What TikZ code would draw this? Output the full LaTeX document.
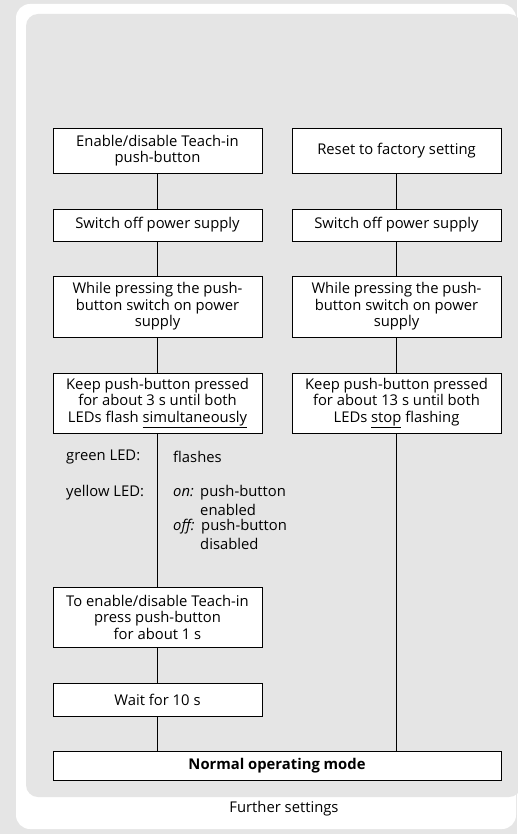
\documentclass[tikz,border=0pt]{standalone}
\usepackage{fontspec}
\setmainfont{Open Sans}
\definecolor{bggray}{HTML}{E5E5E5}
\begin{document}
\begin{tikzpicture}[x=1pt,y=-1pt,
  every node/.style={font=\fontsize{14.8}{16.5}\selectfont, text=black},
  stepbox/.style={draw=black, line width=0.8pt, fill=white, inner sep=0pt, align=center, minimum width=209},
  conn/.style={draw=black, line width=0.8pt},
  note/.style={anchor=west, inner sep=0pt}]
\useasboundingbox (0,0) rectangle (517,834);
\fill[bggray] (0,0) rectangle (517,834);
\fill[white, rounded corners=14] (16,4) rectangle (516,829);
\fill[bggray, rounded corners=12] (26,14) rectangle (521,797);
% left column
\node[stepbox, minimum height=45] (L1) at (157.5,150.5) {Enable/disable Teach-in\\push-button};
\node[stepbox, minimum height=32] (L2) at (157.5,225) {Switch off power supply};
\node[stepbox, minimum height=61] (L3) at (157.5,306.5) {While pressing the push-\\button switch on power\\supply};
\node[stepbox, minimum height=60] (L4) at (157.5,403) {Keep push-button pressed\\for about 3 s until both\\LEDs flash \underline{simultaneously}};
\node[stepbox, minimum height=60] (L5) at (157.5,617) {To enable/disable Teach-in\\press push-button\\for about 1 s};
\node[stepbox, minimum height=33] (L6) at (157.5,699.5) {Wait for 10 s};
% right column
\node[stepbox, minimum height=45] (R1) at (396.5,150.5) {Reset to factory setting};
\node[stepbox, minimum height=32] (R2) at (396.5,225) {Switch off power supply};
\node[stepbox, minimum height=61] (R3) at (396.5,306.5) {While pressing the push-\\button switch on power\\supply};
\node[stepbox, minimum height=60] (R4) at (396.5,403) {Keep push-button pressed\\for about 13 s until both\\LEDs \underline{stop} flashing};
% final
\node[stepbox, minimum width=448, minimum height=29] (F) at (277,765.5) {\bfseries Normal operating mode};
% connectors
\draw[conn] (L1) -- (L2);
\draw[conn] (L2) -- (L3);
\draw[conn] (L3) -- (L4);
\draw[conn] (L4) -- (L5);
\draw[conn] (L5) -- (L6);
\draw[conn] (L6.south) -- (L6.south |- F.north);
\draw[conn] (R1) -- (R2);
\draw[conn] (R2) -- (R3);
\draw[conn] (R3) -- (R4);
\draw[conn] (R4.south) -- (R4.south |- F.north);
% annotations
\node[note] (g1) at (66,457) {green LED:};
\node[note] (g2) at (173,457) {flashes};
\node[note] (y1) at (66,493) {yellow LED:};
\node[note] (y2) at (173,493) {\itshape on:};
\node[note] (y3) at (200,493) {push-button};
\node[note] (y4) at (200,510) {enabled};
\node[note] (y5) at (173,527) {\itshape off:};
\node[note] (y6) at (201,527) {push-button};
\node[note] (y7) at (200,544) {disabled};
\node (fs) at (284,809) {Further settings};
\end{tikzpicture}
\end{document}
